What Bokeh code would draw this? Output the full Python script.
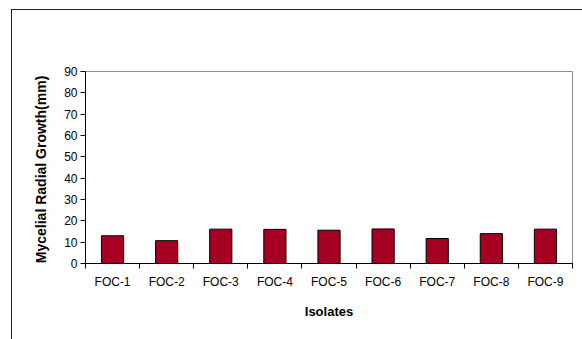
from bokeh.plotting import figure
from bokeh.models import FixedTicker, ColumnDataSource, Range1d, InlineStyleSheet
from bokeh.embed import file_html
from bokeh.resources import INLINE

# Mycelial radial growth per Fusarium isolate
isolates = ["FOC-1", "FOC-2", "FOC-3", "FOC-4", "FOC-5", "FOC-6", "FOC-7", "FOC-8", "FOC-9"]
growth_mm = [13.0, 10.7, 16.1, 16.0, 15.6, 16.2, 11.7, 14.0, 16.1]
y_ticks = [0, 10, 20, 30, 40, 50, 60, 70, 80, 90]

positions = list(range(1, len(isolates) + 1))
source = ColumnDataSource(dict(x=positions, top=growth_mm, name=isolates))

FONT = "Liberation Sans"

# outer chart-area border (only the left and top edges fall inside the page)
frame_css = InlineStyleSheet(css="""
:host { position: relative; }
:host::after {
  content: "";
  position: absolute;
  left: 11px; top: 9px; width: 700px; height: 500px;
  border-left: 1.5px solid #222;
  border-top: 1.5px solid #222;
  pointer-events: none;
}
""")

p = figure(
    width=582, height=339,
    output_backend="svg", toolbar_location=None,
    x_range=Range1d(0.5, len(isolates) + 0.5),
    y_range=Range1d(0, 90),
    min_border_left=85, min_border_right=10,
    min_border_top=71, min_border_bottom=76,
    stylesheets=[frame_css],
)

p.vbar(x="x", top="top", width=0.41, source=source,
       fill_color="#a50021", line_color="#000000", line_width=1)

# plot frame: grey outline, no grid
p.outline_line_color = "#8c8c8c"
p.outline_line_width = 1
p.xgrid.grid_line_color = None
p.ygrid.grid_line_color = None
p.background_fill_color = "white"
p.border_fill_color = "white"

# x axis: labels at category centres, tick marks at the boundaries
xa = p.xaxis[0]
xa.ticker = FixedTicker(ticks=positions,
                        minor_ticks=[i + 0.5 for i in range(0, len(isolates) + 1)])
xa.major_label_overrides = {i: n for i, n in zip(positions, isolates)}
xa.major_tick_in = 0
xa.major_tick_out = 0
xa.minor_tick_in = 0
xa.minor_tick_out = 5
xa.minor_tick_line_color = "black"
xa.axis_line_color = "black"
xa.major_label_text_font = FONT
xa.major_label_text_font_size = "12px"
xa.major_label_text_color = "black"
xa.major_label_standoff = 6
xa.axis_label = "Isolates"
xa.axis_label_text_font = FONT
xa.axis_label_text_font_style = "bold"
xa.axis_label_text_font_size = "13px"
xa.axis_label_text_color = "black"
xa.axis_label_standoff = 12

# y axis
ya = p.yaxis[0]
ya.ticker = FixedTicker(ticks=y_ticks, minor_ticks=[])
ya.major_tick_in = 0
ya.major_tick_out = 5
ya.minor_tick_in = 0
ya.minor_tick_out = 0
ya.major_tick_line_color = "black"
ya.axis_line_color = "black"
ya.major_label_text_font = FONT
ya.major_label_text_font_size = "12px"
ya.major_label_text_color = "black"
ya.major_label_standoff = 3
ya.axis_label = "Mycelial  Radial Growth(mm)"
ya.axis_label_text_font = FONT
ya.axis_label_text_font_style = "bold"
ya.axis_label_text_font_size = "14px"
ya.axis_label_text_color = "black"
ya.axis_label_standoff = 12

open("out.html", "w").write(file_html(p, INLINE))
